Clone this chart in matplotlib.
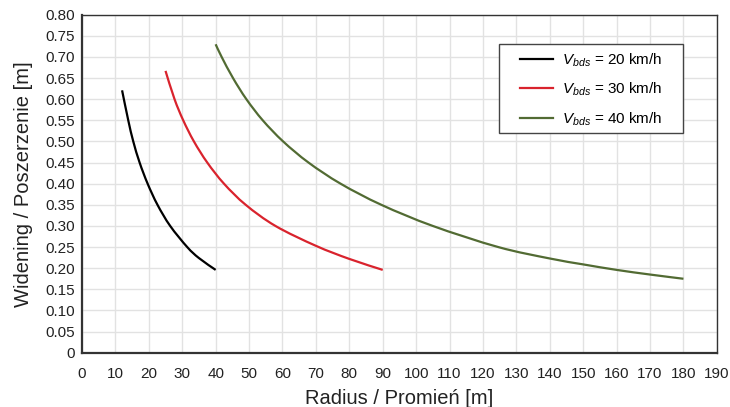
import matplotlib
matplotlib.use("Agg")
import matplotlib.pyplot as plt
from matplotlib.path import Path
from matplotlib.patches import PathPatch, Rectangle
from matplotlib.lines import Line2D

plt.rcParams['font.family'] = ['Liberation Sans', 'DejaVu Sans']
plt.rcParams['mathtext.fontset'] = 'custom'
plt.rcParams['mathtext.rm'] = 'Liberation Sans'
plt.rcParams['mathtext.it'] = 'Liberation Sans:italic'

# radius [m] and widening [m]
r_20 = [12.0, 13.85, 15.35, 17.25, 19.65, 22.6, 26.4, 31.5, 35.0, 40.0]
w_20 = [0.621, 0.550, 0.500, 0.450, 0.400, 0.350, 0.300, 0.250, 0.224, 0.196]

r_30 = [25.0, 27.7, 30.3, 33.5, 37.5, 42.5, 49.0, 57.9, 70.0, 80.0, 90.0]
w_30 = [0.667, 0.600, 0.550, 0.500, 0.450, 0.400, 0.350, 0.300, 0.253, 0.222, 0.196]

r_40 = [40.0, 41.8, 45.2, 49.2, 54.1, 60.2, 67.8, 77.4, 89.6, 105.0, 124.6,
        140.0, 150.0, 160.0, 170.0, 180.0]
w_40 = [0.730, 0.700, 0.650, 0.600, 0.550, 0.500, 0.450, 0.400, 0.350, 0.300,
        0.250, 0.223, 0.209, 0.196, 0.185, 0.175]

labels = [r'$V_{bds}$ = 20 km/h', r'$V_{bds}$ = 30 km/h', r'$V_{bds}$ = 40 km/h']
colors = ['#000000', '#d9232d', '#526b33']

x_ticks = list(range(0, 191, 10))
y_ticks = [i * 0.05 for i in range(17)]
y_tick_labels = ['0'] + ['%.2f' % v for v in y_ticks[1:]]


def smooth_path(xs, ys):
    # Catmull-Rom through the read points, drawn as cubic bezier segments
    pts = list(zip(xs, ys))
    n = len(pts)
    verts = [pts[0]]
    codes = [Path.MOVETO]
    for i in range(n - 1):
        p0 = pts[i - 1] if i > 0 else pts[i]
        p1 = pts[i]
        p2 = pts[i + 1]
        p3 = pts[i + 2] if i + 2 < n else pts[i + 1]
        c1 = (p1[0] + (p2[0] - p0[0]) / 6, p1[1] + (p2[1] - p0[1]) / 6)
        c2 = (p2[0] - (p3[0] - p1[0]) / 6, p2[1] - (p3[1] - p1[1]) / 6)
        verts += [c1, c2, p2]
        codes += [Path.CURVE4] * 3
    return Path(verts, codes)


fig = plt.figure(figsize=(7.30, 4.07), dpi=100)
ax = fig.add_axes([0.1123, 0.1334, 0.8697, 0.8305])

handles = []
for r, w, lab, c in zip([r_20, r_30, r_40], [w_20, w_30, w_40], labels, colors):
    ax.add_patch(PathPatch(smooth_path(r, w), facecolor='none', edgecolor=c,
                           lw=1.6, capstyle='butt', zorder=3))
    handles.append(Line2D([], [], color=c, lw=1.6, label=lab))

ax.set_xlim(0, 190)
ax.set_ylim(0, 0.80)
ax.set_xticks(x_ticks)
ax.set_yticks(y_ticks)
ax.set_yticklabels(y_tick_labels)
ax.tick_params(length=0, labelsize=11, colors='#222222')
ax.tick_params(axis='x', pad=10)
ax.tick_params(axis='y', pad=5)
ax.grid(True, color='#e2e2e2', lw=1.0)
ax.set_axisbelow(True)

for s in ax.spines.values():
    s.set_color('#333333')
    s.set_linewidth(1.0)
ax.spines['left'].set_linewidth(1.6)
ax.spines['bottom'].set_linewidth(1.6)

ax.set_xlabel('Radius / Promień [m]', fontsize=14.5, color='#222222', labelpad=6)
ax.set_ylabel('Widening / Poszerzenie [m]', fontsize=14.5, color='#222222', labelpad=9)

# legend box drawn separately so the inner padding can match
ax.add_patch(Rectangle((0.657, 0.650), 0.289, 0.263, transform=ax.transAxes,
                       facecolor='white', edgecolor='#444444', lw=1.0, zorder=4))
leg = ax.legend(handles=handles, loc='upper left', bbox_to_anchor=(0.690, 0.892),
                fontsize=11, frameon=False, handlelength=2.15, handletextpad=0.6,
                borderpad=0, labelspacing=0.8, borderaxespad=0)
leg.set_zorder(5)

fig.savefig('out.png', dpi=100)
